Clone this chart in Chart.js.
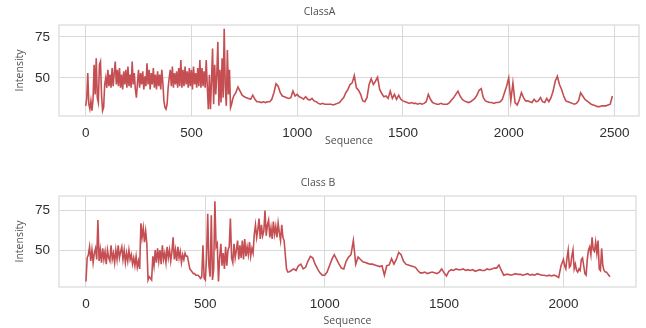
<!DOCTYPE html>
<html><head><meta charset="utf-8">
<script src="https://cdn.jsdelivr.net/npm/chart.js@4.4.1/dist/chart.umd.min.js"></script>
<style>
html,body{margin:0;padding:0;background:#fff;}
#wrap{position:relative;width:646px;height:328px;overflow:hidden;}
.box{position:absolute;left:0;width:646px;height:164px;}
</style></head><body>
<div id="wrap">
<div class="box" style="top:0"><canvas id="cA" width="646" height="164"></canvas></div>
<div class="box" style="top:164px"><canvas id="cB" width="646" height="164"></canvas></div>
</div>
<script>
// ---- Class A ----
// noisy part: one value every 5 sequence units, sequence 0 .. 695
const classA_noisy = [
  33,37,53,34,31,36,30,37,58,40,
  62,38,35,58,60,40,30,32,46,50,
  44,55,45,52,44,56,45,53,60,46,
  55,45,56,44,52,43,54,46,55,44,
  57,45,52,44,60,46,53,43,38,47,
  55,44,53,46,54,43,51,45,59,46,
  55,43,53,46,56,44,52,43,54,45,
  52,43,55,47,36,32,31,34,44,50,
  55,45,57,44,53,46,54,44,56,45,
  61,44,55,45,57,46,54,44,56,45,
  55,43,57,46,53,44,56,45,61,44,
  56,45,54,44,61,45,31,52,31,48,
  68,34,58,40,52,72,33,55,35,62,
  38,80,45,33,67,40,55,32,34,37
];
// smoother part: one value every 10 sequence units, sequence 700 .. 2490
const classA_smooth = [
  39,41,44.5,42,39.5,38.5,38,37.5,37,39.5,
  37,35.5,35.5,35,35.5,35,35.5,35.5,37,41,
  46.5,45,41,39,38.5,38,37.5,38,42,39,
  40,38.5,38,37,38.5,37,36.5,37.5,36,35.5,
  34.5,34,34.5,34,34,34,34,33.5,34,34.5,
  35,36.5,38,41,43,46,47,51.5,44,42.5,
  40,36,35.5,38,46,49.5,46,48,50.5,43,
  40.5,38.5,39,37.5,42,37.5,40,37,39.5,37,
  36,35.5,35,34.5,35,34.5,34.5,34,34.5,34,
  34.5,35.5,40,37,35,34.5,34,34,34.5,34,
  34,34,35,36.5,38,40,42,39,37,36,
  35.5,35,35.5,36.5,37.5,39.5,42.5,43.5,38,36,
  35.5,35,35,34.5,35,35,35.5,37,41,45,
  50,36,47,35,33.5,36.5,41,38,36,36,
  35.5,35,37,35.5,36,38,35.5,35,37.5,35.5,
  38,42,48,51,46,43,39,36,35.5,35,
  34.5,34,34.5,36,41,39,37,36,35,34,
  33.5,33,32.5,32.5,33,33,33,33.5,34,39
];

// ---- Class B ----
// noisy part: one value every 5 sequence units, sequence 0 .. 845
const classB_noisy1 = [
  30,45,47,52,43,50,42,48,51,44,
  69,43,50,42,51,44,49,41,50,45,
  43,53,44,48,42,50,44,53,45,49,
  52,44,50,42,48,43,50,44,47,41,
  45,40,46,39,43,38,67,58,64,55,
  62,54,31,33,32,31,46,40,50,42,
  51,43,50,41,53,44,48,42,52,45,
  50,43,49,58,44,50,43,52,45,49,
  42,47,44,48,46,46,42,38,37,36,
  35,35,34,34,34,33,32,33,53,32,
  31,45,73,40,33,72,31,38,81,52,
  54,30,45,54,40,48,38,52,40,50,
  52,70,45,42,54,45,50,56,44,53,
  45,56,44,57,46,52,47,55,46,51,
  48,60,66,58,63,70,57,66,59,62,
  75,59,66,69,58,64,57,68,60,65,
  58,67,61,56,66,58,56,47,38,36
];
// smoother part: one value every 10 sequence units, sequence 850 .. 1990
const classB_smooth = [
  36,37,38,37,40,
  41,38,39,43,46,45,41,38,35.5,34,
  34,36,40,44,47,44,41,38.5,38,43,
  45.5,47,56,41,45.5,44,42.5,42,41.5,41,
  41,40.5,40,39.5,40,34,40,40.5,44.5,41,
  44,48.5,47,43,41,40.5,40,39.5,39,37,
  35.5,35.5,36,35,35.5,36,35.5,35,36,38,
  35.5,33.5,36.5,37.5,37,38,37.5,37.5,38,37,
  37.5,37,37.5,36.5,37,37.5,37,37,38,37.5,
  38,38.5,38.5,40.5,37,34,34.5,34.5,34,34.5,
  35,34.5,34.5,34,34.5,35,34,34.5,34,35,
  34.5,34,34,33.5,34,33.5,34,33.5,32.5,40
];
// noisy tail: one value every 5 sequence units, sequence 2000 .. 2195
const classB_noisy2 = [
  44,40,38,45,50,39,40,46,50,38,
  41,37,36,38,37,44,45,40,35,34,
  44,50,52,47,58,50,49,55,48,56,
  38,37,51,40,37,36,36,35,34,33
];

// segment starts and spacings (sequence units)
const segStartsA = [0, 700];
const segStepsA = [5, 10];
const segStartsB = [0, 850, 2000];
const segStepsB = [5, 10, 5];

const xTicksA = [0, 500, 1000, 1500, 2000, 2500];
const xTicksB = [0, 500, 1000, 1500, 2000];
const yTicks = [50, 75];
const titleA = 'ClassA';
const titleB = 'Class B';
const xLabel = 'Sequence';
const yLabel = 'Intensity';

const LINE = '#c44e52';
const GRID = '#d9d9d9';
const TICKC = '#2e2e2e';
const LABELC = '#505050';
const TICKFONT = {family: "'Liberation Sans', Arial, sans-serif", size: 13.5};
const LABELFONT = {family: "'Open Sans', sans-serif", size: 10.5, weight: 'normal'};

function buildPoints(segs, starts, steps) {
  const out = [];
  segs.forEach((vals, k) => vals.forEach((v, i) => out.push({x: starts[k] + i * steps[k], y: v})));
  return out;
}

const framePlugin = {
  id: 'frame',
  beforeDatasetsDraw(chart) {
    const {ctx, chartArea: a} = chart;
    ctx.save();
    ctx.strokeStyle = GRID;
    ctx.lineWidth = 1.2;
    ctx.strokeRect(a.left, a.top, a.right - a.left, a.bottom - a.top);
    ctx.restore();
  }
};

function makeChart(id, title, pts, xTicks, g) {
  return new Chart(document.getElementById(id), {
    type: 'line',
    data: {datasets: [{data: pts, borderColor: LINE, borderWidth: 1.6,
      pointRadius: 0, tension: 0, fill: false}]},
    plugins: [framePlugin],
    options: {
      responsive: false, animation: false, devicePixelRatio: 1,
      layout: {padding: {left: 0, right: g.padRight, top: 0, bottom: 0}},
      plugins: {
        legend: {display: false}, tooltip: {enabled: false},
        title: {display: true, text: title, color: LABELC, font: LABELFONT,
          padding: {top: g.tTop, bottom: g.tBottom}}
      },
      scales: {
        x: {
          type: 'linear', min: g.xmin, max: g.xmax,
          afterBuildTicks: s => { s.ticks = xTicks.map(v => ({value: v})); },
          afterFit: s => { s.height = g.xH; },
          ticks: {autoSkip: false, maxRotation: 0, color: TICKC, font: TICKFONT,
            padding: 9, callback: v => String(v)},
          grid: {color: GRID, lineWidth: 1, drawTicks: false},
          border: {display: false},
          title: {display: true, text: xLabel, color: LABELC, font: LABELFONT,
            padding: {top: 0, bottom: g.xtB}}
        },
        y: {
          type: 'linear', min: g.ymin, max: g.ymax,
          afterBuildTicks: s => { s.ticks = yTicks.map(v => ({value: v})); },
          afterFit: s => { s.width = 59; },
          ticks: {color: TICKC, font: TICKFONT, padding: 9, callback: v => String(v)},
          grid: {color: GRID, lineWidth: 1, drawTicks: false},
          border: {display: false},
          title: {display: true, text: yLabel, color: LABELC, font: LABELFONT,
            padding: {top: 13.7, bottom: 0}}
        }
      }
    }
  });
}

makeChart('cA', titleA,
  buildPoints([classA_noisy, classA_smooth], segStartsA, segStepsA), xTicksA,
  {xmin: -126, xmax: 2616, ymin: 26.8, ymax: 82.3, padRight: 7,
   tTop: 5.7, tBottom: 6.7, xH: 48, xtB: 16.7});
makeChart('cB', titleB,
  buildPoints([classB_noisy1, classB_smooth, classB_noisy2], segStartsB, segStepsB), xTicksB,
  {xmin: -113, xmax: 2304, ymin: 26.5, ymax: 84.3, padRight: 10,
   tTop: 12.7, tBottom: 6.7, xH: 41, xtB: 0.7});
</script>
</body></html>
